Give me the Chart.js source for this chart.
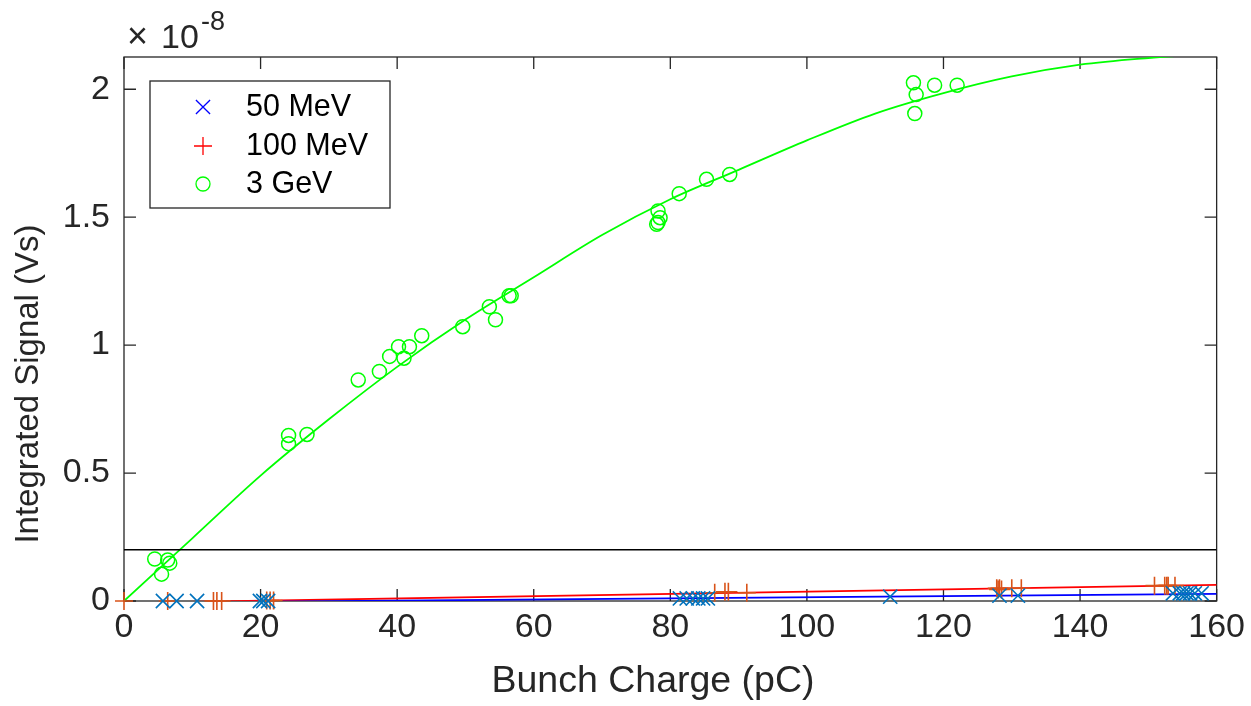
<!DOCTYPE html>
<html>
<head>
<meta charset="utf-8">
<title>Integrated Signal vs Bunch Charge</title>
<script src="https://cdn.jsdelivr.net/npm/chart.js@4.4.1/dist/chart.umd.min.js"></script>
<style>
  body { margin: 0; background: #fff; }
  canvas { display: block; }
</style>
</head>
<body>
<canvas id="myChart" width="1251" height="706"></canvas>
<script>
// axis ticks (y in units of 1e-8 Vs)
var xTicks = [0, 20, 40, 60, 80, 100, 120, 140, 160];
var yTicks = [0, 0.5, 1, 1.5, 2];

// 50 MeV measurements
var mev50Charge = [5.7, 7.7, 10.7, 19.9, 20.4, 21.1, 81.4, 82.4, 83.3, 84.1, 84.8, 85.5, 112.2, 128.2, 130.9, 153.6, 154.6, 155.1, 155.6, 156.1, 156.8, 157.8];
var mev50Signal = [0, 0, 0, 0, 0, 0, 0.010, 0.010, 0.010, 0.010, 0.010, 0.010, 0.017, 0.021, 0.021, 0.030, 0.030, 0.030, 0.030, 0.030, 0.030, 0.030];

// 100 MeV measurements
var mev100Charge = [0, 6.4, 13.1, 13.6, 14.3, 20.9, 21.4, 21.9, 86.5, 88.0, 88.5, 91.2, 127.8, 128.0, 128.2, 128.5, 130.0, 131.4, 150.9, 152.4, 152.7, 152.9, 153.9];
var mev100Signal = [0, 0, 0, 0, 0, 0.002, 0.002, 0.002, 0.032, 0.036, 0.036, 0.032, 0.050, 0.045, 0.050, 0.045, 0.050, 0.050, 0.060, 0.060, 0.060, 0.060, 0.060];

// 3 GeV measurements
var gevCharge = [4.5, 6.4, 6.7, 5.5, 24.1, 24.1, 26.8, 34.3, 37.4, 38.9, 40.2, 41.0, 41.8, 43.6, 49.6, 53.5, 54.4, 56.4, 56.7, 78.2, 78.5, 78.2, 78.0, 81.3, 85.3, 88.7, 115.6, 116.0, 115.8, 118.7, 122.0];
var gevSignal = [0.164, 0.160, 0.148, 0.105, 0.647, 0.615, 0.651, 0.864, 0.897, 0.956, 0.994, 0.949, 0.994, 1.037, 1.072, 1.150, 1.099, 1.193, 1.193, 1.524, 1.498, 1.479, 1.472, 1.592, 1.648, 1.667, 2.025, 1.979, 1.905, 2.016, 2.016];

// fit curves
var mev50FitX = [6, 160];
var mev50FitY = [-0.006, 0.028];
var mev100FitX = [6, 160];
var mev100FitY = [-0.005, 0.063];
var gevFitX = [0, 10, 20, 30, 40, 50, 60, 70, 80, 90, 100, 110, 120, 130, 140, 150, 160];
var gevFitY = [0, 0.245, 0.49, 0.71, 0.915, 1.10, 1.265, 1.43, 1.57, 1.685, 1.80, 1.905, 1.985, 2.05, 2.096, 2.122, 2.14];

// horizontal reference line
var refLineX = [0, 160];
var refLineY = [0.2, 0.2];

var yMax = 2.126;

function pts(xs, ys) {
    return xs.map(function (x, i) { return { x: x, y: ys[i] }; });
}

var axisColor = '#262626';
var fontFamily = '"Liberation Sans", Arial, Helvetica, sans-serif';

var boxPlugin = {
    id: 'box',
    beforeDatasetsDraw: function (chart) {
        var ctx = chart.ctx;
        var a = chart.chartArea;
        var xs = chart.scales.x, ys = chart.scales.y;
        ctx.save();
        ctx.strokeStyle = axisColor;
        ctx.lineWidth = 1.3;
        ctx.strokeRect(a.left, a.top, a.right - a.left, a.bottom - a.top);
        ctx.beginPath();
        xTicks.forEach(function (v) {
            var px = xs.getPixelForValue(v);
            ctx.moveTo(px, a.bottom); ctx.lineTo(px, a.bottom - 12);
            ctx.moveTo(px, a.top); ctx.lineTo(px, a.top + 12);
        });
        yTicks.forEach(function (v) {
            var py = ys.getPixelForValue(v);
            ctx.moveTo(a.left, py); ctx.lineTo(a.left + 12, py);
            ctx.moveTo(a.right, py); ctx.lineTo(a.right - 12, py);
        });
        ctx.stroke();
        ctx.restore();
    },
    afterDraw: function (chart) {
        var ctx = chart.ctx;
        ctx.save();
        ctx.fillStyle = axisColor;

        // axis titles
        ctx.textAlign = 'center';
        ctx.textBaseline = 'middle';
        ctx.font = '37.5px ' + fontFamily;
        ctx.fillText('Bunch Charge (pC)', 653, 682);
        ctx.save();
        ctx.translate(29, 384);
        ctx.rotate(-Math.PI / 2);
        ctx.font = '33px ' + fontFamily;
        ctx.fillText('Integrated Signal (Vs)', 0, 0);
        ctx.restore();

        // exponent label
        ctx.textAlign = 'left';
        ctx.textBaseline = 'alphabetic';
        ctx.font = '36px ' + fontFamily;
        ctx.fillText('\u00d7', 127, 48);
        ctx.font = '34px ' + fontFamily;
        ctx.fillText('10', 161, 48);
        ctx.font = '27px ' + fontFamily;
        ctx.fillText('-8', 201, 30);

        // legend
        ctx.fillStyle = '#ffffff';
        ctx.fillRect(150, 81, 240, 127);
        ctx.strokeStyle = axisColor;
        ctx.lineWidth = 1.3;
        ctx.strokeRect(150, 81, 240, 127);
        var items = [
            { text: '50 MeV', style: 'crossRot', color: '#0000ff', r: 10 },
            { text: '100 MeV', style: 'cross', color: '#ff0000', r: 9 },
            { text: '3 GeV', style: 'circle', color: '#00ff00', r: 7 }
        ];
        var rowY = [107, 146, 184];
        items.forEach(function (it, i) {
            ctx.strokeStyle = it.color;
            ctx.fillStyle = 'rgba(0,0,0,0)';
            Chart.helpers.drawPoint(ctx, { pointStyle: it.style, radius: it.r, borderWidth: 1.5, rotation: 0 }, 203, rowY[i]);
            ctx.fillStyle = '#000000';
            ctx.font = '30.5px ' + fontFamily;
            ctx.textBaseline = 'middle';
            ctx.fillText(it.text, 246, rowY[i] + 1);
        });
        ctx.restore();
    }
};

var ctx = document.getElementById('myChart').getContext('2d');
var myChart = new Chart(ctx, {
    type: 'scatter',
    data: {
        datasets: [{
            label: 'ref',
            data: pts(refLineX, refLineY),
            showLine: true,
            borderColor: '#000000',
            borderWidth: 1.5,
            pointRadius: 0
        }, {
            label: '50 MeV',
            data: pts(mev50Charge, mev50Signal),
            pointStyle: 'crossRot',
            pointRadius: 10,
            pointBorderWidth: 1.6,
            borderColor: '#0072BD',
            backgroundColor: 'rgba(0,0,0,0)',
            clip: false
        }, {
            label: '100 MeV',
            data: pts(mev100Charge, mev100Signal),
            pointStyle: 'cross',
            pointRadius: 9,
            pointBorderWidth: 1.6,
            borderColor: '#D95319',
            backgroundColor: 'rgba(0,0,0,0)',
            clip: false
        }, {
            label: '3 GeV',
            data: pts(gevCharge, gevSignal),
            pointStyle: 'circle',
            pointRadius: 7,
            pointBorderWidth: 1.5,
            borderColor: '#00FF00',
            backgroundColor: 'rgba(0,0,0,0)',
            clip: false
        }, {
            label: '50 MeV fit',
            data: pts(mev50FitX, mev50FitY),
            showLine: true,
            borderColor: '#0000FF',
            borderWidth: 1.8,
            pointRadius: 0
        }, {
            label: '100 MeV fit',
            data: pts(mev100FitX, mev100FitY),
            showLine: true,
            borderColor: '#FF0000',
            borderWidth: 1.8,
            pointRadius: 0
        }, {
            label: '3 GeV fit',
            data: pts(gevFitX, gevFitY),
            showLine: true,
            borderColor: '#00FF00',
            borderWidth: 1.8,
            pointRadius: 0,
            cubicInterpolationMode: 'monotone'
        }]
    },
    options: {
        responsive: false,
        animation: false,
        layout: { padding: { left: 0, right: 34, top: 57, bottom: 0 } },
        plugins: {
            legend: { display: false },
            tooltip: { enabled: false }
        },
        scales: {
            x: {
                type: 'linear',
                min: 0,
                max: 160,
                afterFit: function (scale) { scale.height = 105; },
                afterBuildTicks: function (scale) {
                    scale.ticks = xTicks.map(function (v) { return { value: v }; });
                },
                grid: { display: false, drawTicks: false },
                border: { display: false },
                ticks: {
                    padding: 6,
                    color: axisColor,
                    font: { family: fontFamily, size: 34 },
                    maxRotation: 0
                }
            },
            y: {
                type: 'linear',
                min: 0,
                max: yMax,
                afterFit: function (scale) { scale.width = 124; },
                afterBuildTicks: function (scale) {
                    scale.ticks = yTicks.map(function (v) { return { value: v }; });
                },
                grid: { display: false, drawTicks: false },
                border: { display: false },
                ticks: {
                    padding: 14,
                    color: axisColor,
                    font: { family: fontFamily, size: 34 },
                    callback: function (v) { return String(v); }
                }
            }
        }
    },
    plugins: [boxPlugin]
});
</script>
</body>
</html>
